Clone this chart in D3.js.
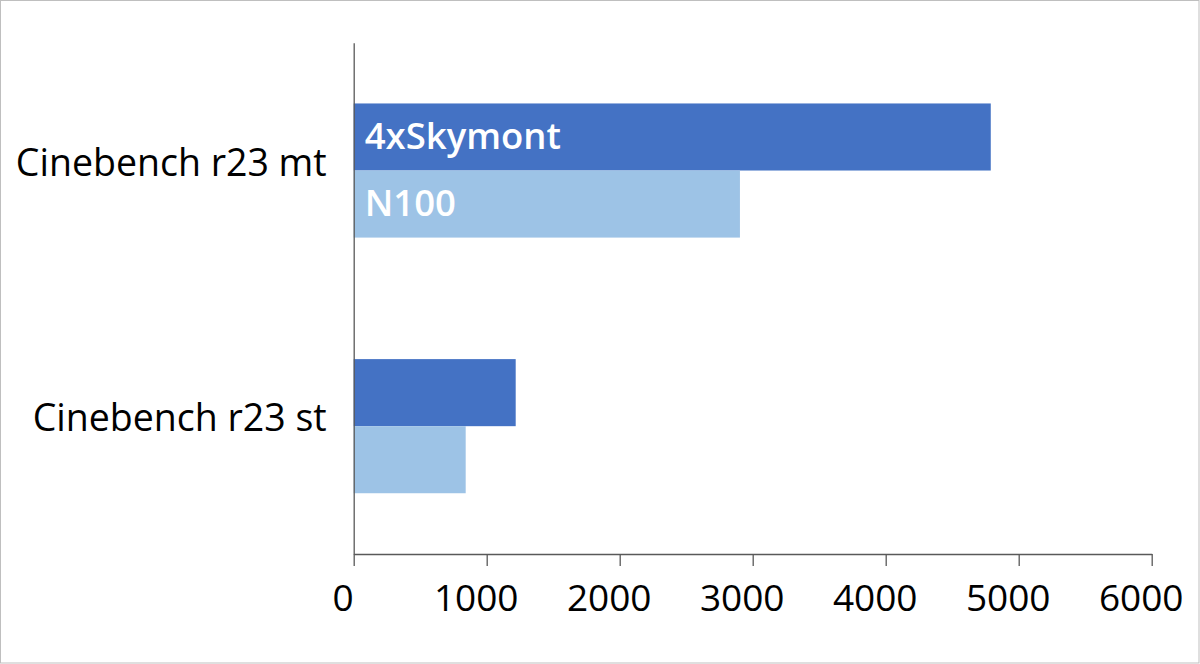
<!DOCTYPE html>
<html><head><meta charset="utf-8">
<script src="https://cdn.jsdelivr.net/npm/d3@7"></script>
<style>
html,body{margin:0;padding:0;background:#fff;}
svg{display:block;font-family:"Open Sans",sans-serif;}
</style></head>
<body>
<svg id="chart" width="1200" height="664"></svg>
<script>
const categories = ["Cinebench r23 mt", "Cinebench r23 st"];
const seriesNames = ["4xSkymont", "N100"];
const skymontValues = [4790, 1218];
const n100Values = [2904, 842];
const xTicks = [0, 1000, 2000, 3000, 4000, 5000, 6000];
const colors = ["#4472C4", "#9DC3E6"];

const seriesValues = [skymontValues, n100Values];
const svg = d3.select("#chart");
const W = 1200, H = 664;

svg.append("rect").attr("x",0.5).attr("y",0.5).attr("width",W-1.5).attr("height",H-1.5)
  .attr("fill","#fff").attr("stroke","#bfbfbf").attr("stroke-width",1);

const x = d3.scaleLinear().domain([0, 6000]).range([353.7, 1151.7]);
const y = d3.scaleBand().domain(categories).range([42.7, 554]).paddingInner(0).paddingOuter(0);
const ySub = d3.scaleBand().domain(seriesNames).range([0, y.bandwidth()]).paddingInner(0).paddingOuter(0.906);

// bars
categories.forEach((cat, ci) => {
  seriesNames.forEach((s, si) => {
    svg.append("rect")
      .attr("x", x(0))
      .attr("y", y(cat) + ySub(s))
      .attr("width", x(seriesValues[si][ci]) - x(0))
      .attr("height", ySub.bandwidth())
      .attr("fill", colors[si]);
  });
});

// series name labels on first category
seriesNames.forEach((s, si) => {
  svg.append("text")
    .attr("x", x(0) + 11)
    .attr("y", y(categories[0]) + ySub(s) + ySub.bandwidth()/2 + 12)
    .attr("fill", "#fff")
    .attr("font-size", 36.5)
    .attr("font-weight", 600)
    .text(s);
});

// x axis
const xAxis = d3.axisBottom(x).tickValues(xTicks).tickSize(12).tickSizeOuter(0).tickFormat(d3.format("d"));
const gx = svg.append("g").attr("transform", "translate(0,554)").call(xAxis);
gx.select(".domain").attr("stroke", "#595959").attr("stroke-width", 1.3);
gx.selectAll(".tick line").attr("stroke", "#595959").attr("stroke-width", 1.3);
gx.selectAll(".tick text").attr("font-size", 37).attr("fill", "#000")
  .attr("font-family", "'Open Sans',sans-serif").attr("font-weight", 500)
  .attr("y", 0).attr("dy", 0).attr("dx", -11)
  .attr("transform", "translate(0,57)");

// y axis
const yAxis = d3.axisLeft(y).tickSize(0).tickSizeOuter(0);
const gy = svg.append("g").attr("transform", "translate(353.7,0)").call(yAxis);
gy.select(".domain").attr("stroke", "#595959").attr("stroke-width", 1.3);
gy.selectAll(".tick text").attr("font-size", 37.5).attr("fill", "#000")
  .attr("font-family", "'Open Sans',sans-serif").attr("font-weight", 500)
  .attr("x", -27).attr("dy", "0").attr("y", 5)
  .attr("dominant-baseline", "alphabetic");
</script>
</body></html>
